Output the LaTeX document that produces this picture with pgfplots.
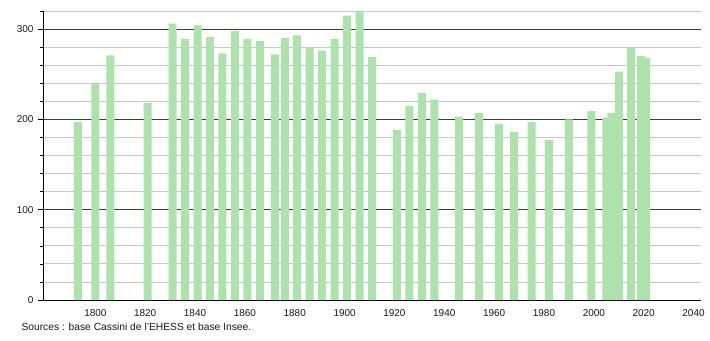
\documentclass[border=0pt]{standalone}
\usepackage{fontspec}
\setmainfont{Liberation Sans}
\usepackage{pgfplots}
\pgfplotsset{compat=1.18}
\definecolor{barc}{RGB}{173,226,173}
\definecolor{majg}{RGB}{60,60,60}
\definecolor{ming}{RGB}{200,200,200}
\pgfplotstableread{
year pop
1793 197
1800 240
1806 271
1821 218
1831 306
1836 289
1841 304
1846 291
1851 273
1856 298
1861 289
1866 287
1872 272
1876 290
1881 293
1886 280
1891 276
1896 289
1901 315
1906 320
1911 269
1921 188
1926 215
1931 229
1936 222
1946 203
1954 207
1962 195
1968 186
1975 197
1982 177
1990 200
1999 209
2005 202
2007 207
2010 253
2015 279
2019 270
2021 268
}\poptable
\begin{document}
\begin{tikzpicture}[x=1bp,y=1bp]
\path[use as bounding box] (0,0) rectangle (710,340);
\begin{axis}[
  at={(43bp,40bp)}, anchor=south west,
  scale only axis, width=658bp, height=289bp,
  xmin=1779, xmax=2043, ymin=0, ymax=320,
  axis lines*=left,
  axis line style={black, line width=0.8pt},
  xtick={1800,1820,...,2040},
  xtick style={draw=none},
  ytick={0,100,200,300},
  minor ytick={20,40,60,80,120,140,160,180,220,240,260,280,320},
  tick align=outside,
  major tick length=5bp, minor tick length=3bp,
  ytick style={black, line width=0.6pt},
  ymajorgrids, yminorgrids,
  major grid style={majg, line width=0.8pt},
  minor grid style={ming, line width=0.8pt},
  /pgf/number format/assume math mode=true,
  /pgf/number format/1000 sep={},
  ticklabel style={font=\fontsize{10}{12}\selectfont, text=black!90},
  xticklabel style={yshift=-1bp},
  yticklabel style={xshift=-1bp},
]
\addplot[ybar, bar width=8bp, fill=barc, draw=none] table[x=year, y=pop] {\poptable};
\end{axis}
\node[anchor=west, font=\fontsize{10.3}{12}\selectfont, text=black!90] at (18,13) {Sources : base Cassini de l'EHESS et base Insee.};
\end{tikzpicture}
\end{document}
